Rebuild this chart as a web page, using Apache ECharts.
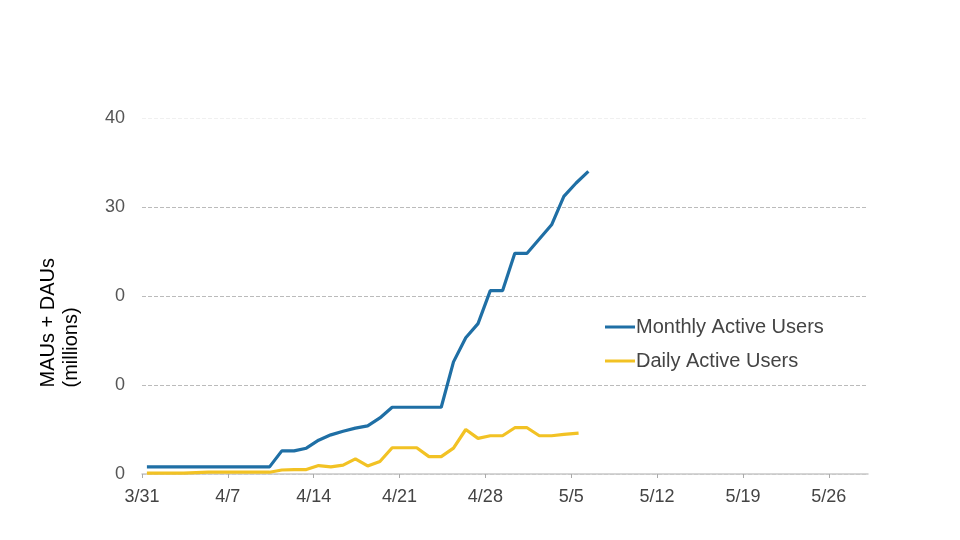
<!DOCTYPE html>
<html>
<head>
<meta charset="utf-8">
<script src="https://cdn.jsdelivr.net/npm/echarts@6/dist/echarts.min.js"></script>
<style>html,body{margin:0;padding:0;background:#fff;}#c{width:960px;height:540px;}</style>
</head>
<body>
<div id="c"></div>
<script>
// day offsets from 3/31 (points sit slightly after midnight in the source)
var mauDays = [0.4,1.4,2.4,3.4,4.4,5.4,6.4,7.4,8.4,9.4,10.4,11.4,12.4,13.4,14.4,15.4,16.4,17.4,18.4,19.4,20.4,21.4,22.4,23.4,24.4,25.4,26.4,27.4,28.4,29.4,30.4,31.4,32.4,33.4,34.4,35.4,36.4];
var mauValues = [0.8,0.8,0.8,0.8,0.8,0.8,0.8,0.8,0.8,0.8,0.8,2.6,2.6,2.9,3.8,4.4,4.8,5.15,5.4,6.3,7.5,7.5,7.5,7.5,7.5,12.6,15.3,16.9,20.6,20.6,24.8,24.8,26.4,28.0,31.2,32.7,34.0];
var dauDays = [0.4,1.4,2.4,3.4,4.4,5.4,6.4,7.4,8.4,9.4,10.4,11.4,12.4,13.4,14.4,15.4,16.4,17.4,18.4,19.4,20.4,21.4,22.4,23.4,24.4,25.4,26.4,27.4,28.4,29.4,30.4,31.4,32.4,33.4,34.4,35.6];
var dauValues = [0.1,0.1,0.1,0.1,0.15,0.2,0.2,0.2,0.2,0.2,0.2,0.45,0.5,0.5,0.95,0.8,1.0,1.7,0.9,1.4,2.95,2.95,2.95,1.95,1.95,2.9,5.0,4.0,4.3,4.3,5.2,5.2,4.3,4.3,4.45,4.6];
var xTickLabels = ['3/31','4/7','4/14','4/21','4/28','5/5','5/12','5/19','5/26'];
var yTickLabels = ['0','0','0','30','40'];
var seriesNames = ['Monthly Active Users','Daily Active Users'];

function pairs(xs, ys){ return xs.map(function(x,i){ return [x, ys[i]]; }); }

var FONT = 'Liberation Sans, Arial, sans-serif';
var chart = echarts.init(document.getElementById('c'));
chart.setOption({
  animation: false,
  backgroundColor: '#fff',
  textStyle: { fontFamily: FONT },
  grid: { left: 142, right: 92, top: 118, bottom: 66 },
  legend: {
    orient: 'vertical', left: 605, top: 317, itemGap: 14, padding: 0,
    icon: 'rect', itemWidth: 30, itemHeight: 3,
    textStyle: { fontSize: 20, color: '#444', padding: [0,0,0,-4] },
    data: seriesNames
  },
  graphic: [{
    type: 'text', left: 37, top: 258, rotation: Math.PI / 2,
    style: { text: 'MAUs + DAUs\n(millions)', fill: '#000', align: 'center', lineHeight: 23, font: '20px Liberation Sans, Arial, sans-serif' }
  }],
  xAxis: {
    type: 'value', min: 0, max: 59.2, interval: 7,
    axisLine: { lineStyle: { color: '#c8c8c8', width: 1.5 } },
    axisTick: { show: true, length: 4, lineStyle: { color: '#aaa' } },
    splitLine: { show: false },
    axisLabel: {
      fontSize: 18, color: '#444', margin: 14,
      showMaxLabel: false,
      formatter: function(v){ var i = Math.round(v / 7); return (Math.abs(v - i*7) < 0.01 && xTickLabels[i]) ? xTickLabels[i] : ''; }
    }
  },
  yAxis: {
    type: 'value', min: 0, max: 40, interval: 10,
    axisLine: { show: false },
    axisTick: { show: false },
    axisLabel: {
      fontSize: 18, color: '#555', margin: 17,
      formatter: function(v){ return yTickLabels[Math.round(v / 10)]; }
    },
    splitLine: { show: true, lineStyle: { type: 'dashed', color: ['#ccc','#bbb','#bbb','#bbb','#f0f0f0'], width: 1 } }
  },
  series: [
    { name: seriesNames[0], type: 'line', data: pairs(mauDays, mauValues), showSymbol: false, symbol: 'none',
      lineStyle: { color: '#1f6fa5', width: 3.2 }, itemStyle: { color: '#1f6fa5' } },
    { name: seriesNames[1], type: 'line', data: pairs(dauDays, dauValues), showSymbol: false, symbol: 'none',
      lineStyle: { color: '#f2c224', width: 3.2 }, itemStyle: { color: '#f2c224' } }
  ]
});
</script>
</body>
</html>
